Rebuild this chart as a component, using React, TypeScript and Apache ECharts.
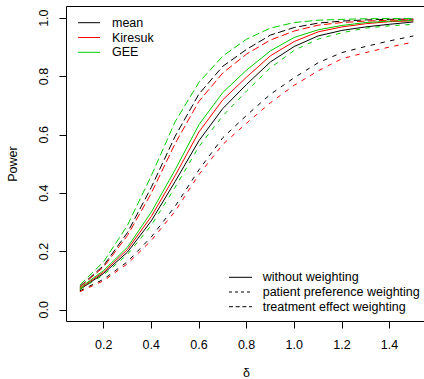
import React, { useEffect, useRef } from "react";
import * as echarts from "echarts";

const FONT = '"Liberation Sans", Arial, Helvetica, sans-serif';

const delta = [0.1, 0.2, 0.3, 0.4, 0.5, 0.6, 0.7, 0.8, 0.9, 1.0, 1.1, 1.2, 1.3, 1.4, 1.5];
const xTicks = [0.2, 0.4, 0.6, 0.8, 1.0, 1.2, 1.4];
const yTicks = [0, 0.2, 0.4, 0.6, 0.8, 1.0];

// without weighting (solid)
const meanWithout = [0.07, 0.125, 0.198, 0.305, 0.44, 0.58, 0.69, 0.773, 0.85, 0.903, 0.939, 0.958, 0.97, 0.979, 0.987];
const kiresukWithout = [0.072, 0.13, 0.207, 0.32, 0.46, 0.61, 0.72, 0.798, 0.871, 0.92, 0.953, 0.97, 0.981, 0.988, 0.991];
const geeWithout = [0.075, 0.135, 0.215, 0.335, 0.48, 0.635, 0.745, 0.822, 0.888, 0.934, 0.96, 0.975, 0.985, 0.99, 0.993];
// patient preference weighting (dotted)
const meanPatient = [0.065, 0.105, 0.165, 0.25, 0.355, 0.48, 0.59, 0.667, 0.739, 0.796, 0.847, 0.882, 0.903, 0.922, 0.939];
const kiresukPatient = [0.062, 0.1, 0.158, 0.238, 0.338, 0.464, 0.567, 0.64, 0.71, 0.77, 0.819, 0.861, 0.882, 0.901, 0.918];
const geePatient = [0.07, 0.12, 0.19, 0.29, 0.42, 0.56, 0.665, 0.75, 0.83, 0.89, 0.928, 0.95, 0.966, 0.974, 0.979];
// treatment effect weighting (dashed)
const meanTreatment = [0.08, 0.152, 0.265, 0.42, 0.595, 0.74, 0.835, 0.893, 0.942, 0.968, 0.983, 0.99, 0.994, 0.996, 0.997];
const kiresukTreatment = [0.078, 0.147, 0.255, 0.4, 0.57, 0.715, 0.812, 0.877, 0.925, 0.956, 0.976, 0.985, 0.99, 0.993, 0.995];
const geeTreatment = [0.085, 0.165, 0.29, 0.46, 0.645, 0.78, 0.87, 0.928, 0.966, 0.985, 0.993, 0.996, 0.998, 0.999, 0.999];

const methodNames = ["mean", "Kiresuk", "GEE"];
const weightNames = ["without weighting", "patient preference weighting", "treatment effect weighting"];

const COLORS = ["#000000", "#FF0000", "#00CD00"];
const PLOT_DASH: (number[] | null)[] = [null, [4.5, 5.5], [7.5, 3.5]];
const LEGEND_DASH: (number[] | null)[] = [null, [3, 3], [4, 2.7]];

const table = [
  [meanWithout, kiresukWithout, geeWithout],
  [meanPatient, kiresukPatient, geePatient],
  [meanTreatment, kiresukTreatment, geeTreatment],
];

export default function App() {
  const ref = useRef<HTMLDivElement>(null);
  useEffect(() => {
    if (!ref.current) return;
    const chart = echarts.init(ref.current, null, { renderer: "svg" });
    const series: any[] = [];
    table.forEach((group, w) => {
      group.forEach((vals, m) => {
        series.push({
          type: "line",
          name: methodNames[m] + " / " + weightNames[w],
          data: delta.map((d, i) => [d, vals[i]]),
          symbol: "none",
          lineStyle: {
            color: COLORS[m],
            width: 1,
            type: PLOT_DASH[w] ? PLOT_DASH[w] : "solid",
          },
          z: 2,
        });
      });
    });

    const graphics: any[] = [];
    methodNames.forEach((n, i) => {
      const y = 22.7 + i * 14.8;
      graphics.push({
        type: "line",
        shape: { x1: 78, y1: y, x2: 100, y2: y },
        style: { stroke: COLORS[i], lineWidth: 1 },
      });
      graphics.push({
        type: "text",
        x: 112,
        y: y,
        style: { text: n, fill: "#000", font: `12.5px ${FONT}`, textVerticalAlign: "middle", verticalAlign: "middle" },
      });
    });
    weightNames.forEach((n, i) => {
      const y = 277.3 + i * 14.7;
      graphics.push({
        type: "line",
        shape: { x1: 229, y1: y, x2: 252, y2: y },
        style: { stroke: "#000", lineWidth: 1, lineDash: LEGEND_DASH[i] || undefined },
      });
      graphics.push({
        type: "text",
        x: 262.7,
        y: y,
        style: { text: n, fill: "#000", font: `12.5px ${FONT}`, textVerticalAlign: "middle", verticalAlign: "middle" },
      });
    });

    chart.setOption({
      animation: false,
      backgroundColor: "#ffffff",
      textStyle: { fontFamily: FONT },
      grid: {
        left: 66.5,
        top: 6.5,
        right: -2.7,
        bottom: 57.5,
        containLabel: false,
        outerBoundsMode: "none",
        show: true,
        borderColor: "#000",
        borderWidth: 1,
        backgroundColor: "transparent",
      },
      xAxis: {
        type: "value",
        min: 0.044,
        max: 1.556,
        name: "δ",
        nameLocation: "middle",
        nameGap: 45,
        nameTextStyle: { fontFamily: FONT, fontSize: 12.5, color: "#000" },
        axisLine: { show: false, onZero: false },
        splitLine: { show: false },
        axisTick: { show: true, inside: false, length: 7, lineStyle: { color: "#000" }, customValues: xTicks },
        axisLabel: {
          show: true,
          margin: 17,
          color: "#000",
          fontFamily: FONT,
          fontSize: 12.5,
          customValues: xTicks,
          formatter: (v: number) => v.toFixed(1),
        },
      },
      yAxis: {
        type: "value",
        min: -0.04,
        max: 1.04,
        name: "Power",
        nameLocation: "middle",
        nameRotate: 90,
        nameGap: 47.5,
        nameTextStyle: { fontFamily: FONT, fontSize: 12.5, color: "#000" },
        axisLine: { show: false, onZero: false },
        splitLine: { show: false },
        axisTick: { show: true, inside: false, length: 7, lineStyle: { color: "#000" }, customValues: yTicks },
        axisLabel: {
          show: true,
          rotate: 90,
          margin: 16.5,
          color: "#000",
          fontFamily: FONT,
          fontSize: 12.5,
          customValues: yTicks,
          formatter: (v: number) => v.toFixed(1),
        },
      },
      series,
      graphic: graphics,
    });
    return () => chart.dispose();
  }, []);
  return <div ref={ref} style={{ position: "fixed", left: 0, top: 0, width: 424, height: 379 }} />;
}
